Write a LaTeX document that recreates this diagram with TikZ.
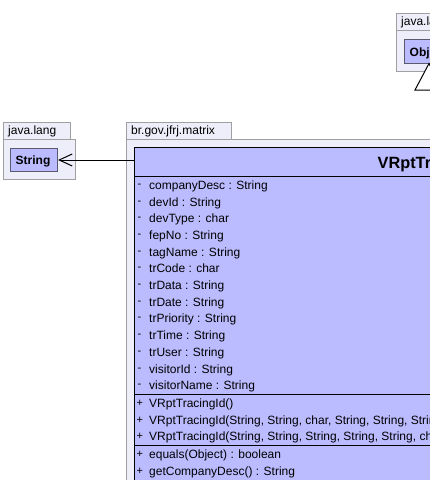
\documentclass[tikz,border=0pt]{standalone}
\usepackage{fontspec}
\setmainfont{Liberation Sans}
\usetikzlibrary{arrows.meta}
\definecolor{pkgfill}{RGB}{238,238,250}
\definecolor{pkgline}{RGB}{160,160,160}
\definecolor{clsfill}{RGB}{187,187,255}
\definecolor{boxline}{RGB}{90,90,110}
\begin{document}
\begin{tikzpicture}[x=1pt,y=-1pt,
  pkg/.style={draw=pkgline, fill=pkgfill, line width=1pt, inner sep=0pt, anchor=north west},
  cls/.style={draw=black, fill=clsfill, line width=1pt, inner sep=0pt, anchor=north west},
  inbox/.style={draw=boxline, fill=clsfill, line width=1pt, inner sep=0pt, anchor=north west},
  lbl/.style={anchor=base west, inner sep=0pt, font=\fontsize{12}{14}\selectfont},
  sgn/.style={anchor=base west, inner sep=0pt, font=\fontsize{11}{13}\selectfont},
  blbl/.style={anchor=base west, inner sep=0pt, font=\bfseries\fontsize{12}{14}\selectfont},
  sep/.style={draw=black, line width=1pt}]
\useasboundingbox (0,0) rectangle (430,480);
\begin{scope}
\clip (0,0) rectangle (430,480);
% ---- left package java.lang
\node[pkg, minimum width=67, minimum height=17] (tabL) at (3,122) {};
\node[pkg, minimum width=72, minimum height=40] (pkgL) at (3,139) {};
\node[lbl] (tabLtext) at (8,134.5) {java.lang};
\node[inbox, minimum width=47, minimum height=23] (strbox) at (10,148) {};
\node[blbl] (strtext) at (15.5,164) {String};
% ---- top-right package java.lang
\node[pkg, minimum width=60, minimum height=17] (tabR) at (396,13) {};
\node[pkg, minimum width=60, minimum height=41] (pkgR) at (396,30) {};
\node[lbl] (tabRtext) at (401,25.5) {java.lang};
\node[inbox, minimum width=50, minimum height=24] (objbox) at (404,39) {};
\node[blbl] (objtext) at (409.5,56) {Object};
% ---- main package
\node[pkg, minimum width=105, minimum height=17] (tabM) at (126,122) {};
\node[pkg, minimum width=400, minimum height=400] (pkgM) at (126,139) {};
\node[lbl] (tabMtext) at (131,134.5) {br.gov.jfrj.matrix};
% ---- class
\node[cls, minimum width=400, minimum height=400] (cls) at (134,147) {};
\node[anchor=base west, inner sep=0pt, font=\bfseries\fontsize{16.3}{19}\selectfont] (title) at (377.5,168) {VRptTracingId};
\draw[sep] (134,176.5) -- (560,176.5);
\foreach \t [count=\i from 0] in {companyDesc : String, devId : String, devType : char, fepNo : String, tagName : String, trCode : char, trData : String, trDate : String, trPriority : String, trTime : String, trUser : String, visitorId : String, visitorName : String}{
  \node[sgn] at (137.5,187.3+16.7*\i) {-};
  \node[lbl] at (149,189.3+16.7*\i) {\t};
}
\draw[sep] (134,394.5) -- (560,394.5);
\foreach \t [count=\i from 0] in {{VRptTracingId()}, {VRptTracingId(String, String, char, String, String, String)}, {VRptTracingId(String, String, String, String, String, char)}}{
  \node[sgn] at (136.5,406.3+16.7*\i) {+};
  \node[lbl] at (149,407.3+16.7*\i) {\t};
}
\draw[sep] (134,445.5) -- (560,445.5);
\foreach \t [count=\i from 0] in {{equals(Object) : boolean}, {getCompanyDesc() : String}}{
  \node[sgn] at (136.5,457.3+16.7*\i) {+};
  \node[lbl] at (149,458.3+16.7*\i) {\t};
}
% ---- association arrow to String
\draw[line width=1pt, -{Straight Barb[length=13pt,width=12pt,line width=1pt]}] (strbox.east -| cls.west) -- (strbox.east);
% ---- generalization triangle to Object
\coordinate (apex) at (429,63.5);
\draw[line width=1pt, fill=white] (apex) -- (415,90) -- (443,90) -- cycle;
\end{scope}
\end{tikzpicture}
\end{document}
